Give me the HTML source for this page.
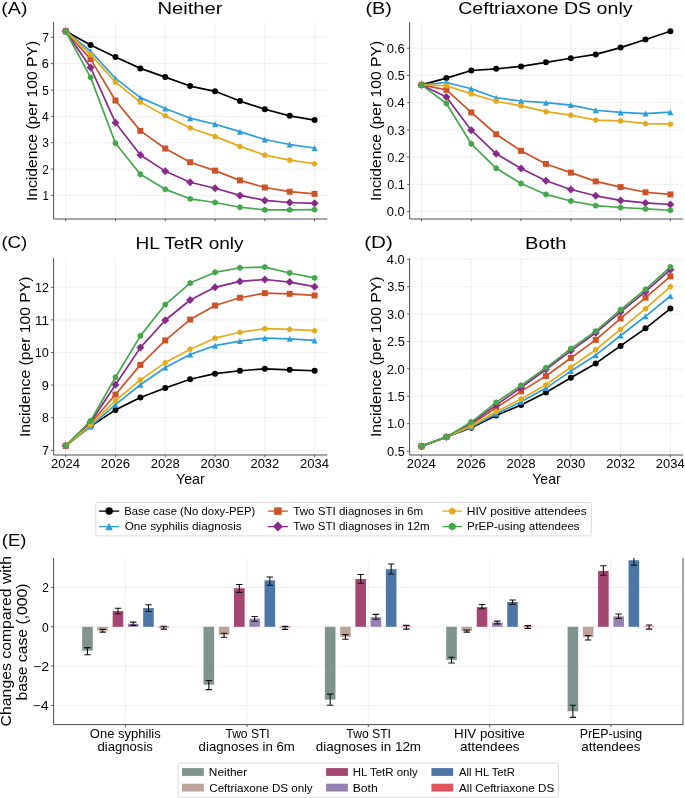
<!DOCTYPE html>
<html><head><meta charset="utf-8"><title>Figure</title><style>
html,body{margin:0;padding:0;background:#fff;width:685px;height:798px;overflow:hidden}
svg{display:block;will-change:transform}
text{font-family:"Liberation Sans",sans-serif;fill:#000}
</style></head><body>
<svg width="685" height="798" viewBox="0 0 685 798">
<rect width="685" height="798" fill="#fff"/>
<g>
<path d="M65.7 22.2V219M115.48 22.2V219M165.26 22.2V219M215.04 22.2V219M264.82 22.2V219M314.6 22.2V219M53.6 195.4H327.3M53.6 169.05H327.3M53.6 142.7H327.3M53.6 116.35H327.3M53.6 90H327.3M53.6 63.65H327.3M53.6 37.3H327.3" stroke="#ebebeb" stroke-width="0.8" fill="none"/>
<polyline points="65.7,31.24 90.59,44.94 115.48,57.06 140.37,68.39 165.26,77.09 190.15,86.05 215.04,91.32 239.93,101.07 264.82,109.24 289.71,115.82 314.6,120.04" fill="none" stroke="#000000" stroke-width="1.7" stroke-linejoin="round" stroke-linecap="round"/>
<circle cx="65.7" cy="31.24" r="3" fill="#000000"/><circle cx="90.59" cy="44.94" r="3" fill="#000000"/><circle cx="115.48" cy="57.06" r="3" fill="#000000"/><circle cx="140.37" cy="68.39" r="3" fill="#000000"/><circle cx="165.26" cy="77.09" r="3" fill="#000000"/><circle cx="190.15" cy="86.05" r="3" fill="#000000"/><circle cx="215.04" cy="91.32" r="3" fill="#000000"/><circle cx="239.93" cy="101.07" r="3" fill="#000000"/><circle cx="264.82" cy="109.24" r="3" fill="#000000"/><circle cx="289.71" cy="115.82" r="3" fill="#000000"/><circle cx="314.6" cy="120.04" r="3" fill="#000000"/>
<polyline points="65.7,31.24 90.59,51.27 115.48,78.41 140.37,97.64 165.26,108.45 190.15,118.19 215.04,124.25 239.93,131.63 264.82,139.54 289.71,144.54 314.6,147.97" fill="none" stroke="#2a9dda" stroke-width="1.7" stroke-linejoin="round" stroke-linecap="round"/>
<polygon points="65.7,28.24 68.7,34.24 62.7,34.24" fill="#2a9dda"/><polygon points="90.59,48.27 93.59,54.27 87.59,54.27" fill="#2a9dda"/><polygon points="115.48,75.41 118.48,81.41 112.48,81.41" fill="#2a9dda"/><polygon points="140.37,94.64 143.37,100.64 137.37,100.64" fill="#2a9dda"/><polygon points="165.26,105.45 168.26,111.45 162.26,111.45" fill="#2a9dda"/><polygon points="190.15,115.19 193.15,121.19 187.15,121.19" fill="#2a9dda"/><polygon points="215.04,121.25 218.04,127.25 212.04,127.25" fill="#2a9dda"/><polygon points="239.93,128.63 242.93,134.63 236.93,134.63" fill="#2a9dda"/><polygon points="264.82,136.54 267.82,142.54 261.82,142.54" fill="#2a9dda"/><polygon points="289.71,141.54 292.71,147.54 286.71,147.54" fill="#2a9dda"/><polygon points="314.6,144.97 317.6,150.97 311.6,150.97" fill="#2a9dda"/>
<polyline points="65.7,31.24 90.59,59.17 115.48,100.54 140.37,130.84 165.26,148.5 190.15,162.2 215.04,170.63 239.93,180.38 264.82,187.5 289.71,191.71 314.6,193.82" fill="none" stroke="#cd5227" stroke-width="1.7" stroke-linejoin="round" stroke-linecap="round"/>
<rect x="62.7" y="28.24" width="6" height="6" fill="#cd5227"/><rect x="87.59" y="56.17" width="6" height="6" fill="#cd5227"/><rect x="112.48" y="97.54" width="6" height="6" fill="#cd5227"/><rect x="137.37" y="127.84" width="6" height="6" fill="#cd5227"/><rect x="162.26" y="145.5" width="6" height="6" fill="#cd5227"/><rect x="187.15" y="159.2" width="6" height="6" fill="#cd5227"/><rect x="212.04" y="167.63" width="6" height="6" fill="#cd5227"/><rect x="236.93" y="177.38" width="6" height="6" fill="#cd5227"/><rect x="261.82" y="184.5" width="6" height="6" fill="#cd5227"/><rect x="286.71" y="188.71" width="6" height="6" fill="#cd5227"/><rect x="311.6" y="190.82" width="6" height="6" fill="#cd5227"/>
<polyline points="65.7,31.24 90.59,67.6 115.48,122.67 140.37,155.08 165.26,171.16 190.15,182.23 215.04,188.29 239.93,195.4 264.82,200.41 289.71,202.51 314.6,203.31" fill="none" stroke="#872a8a" stroke-width="1.7" stroke-linejoin="round" stroke-linecap="round"/>
<polygon points="65.7,27.24 69.7,31.24 65.7,35.24 61.7,31.24" fill="#872a8a"/><polygon points="90.59,63.6 94.59,67.6 90.59,71.6 86.59,67.6" fill="#872a8a"/><polygon points="115.48,118.67 119.48,122.67 115.48,126.67 111.48,122.67" fill="#872a8a"/><polygon points="140.37,151.08 144.37,155.08 140.37,159.08 136.37,155.08" fill="#872a8a"/><polygon points="165.26,167.16 169.26,171.16 165.26,175.16 161.26,171.16" fill="#872a8a"/><polygon points="190.15,178.23 194.15,182.23 190.15,186.23 186.15,182.23" fill="#872a8a"/><polygon points="215.04,184.29 219.04,188.29 215.04,192.29 211.04,188.29" fill="#872a8a"/><polygon points="239.93,191.4 243.93,195.4 239.93,199.4 235.93,195.4" fill="#872a8a"/><polygon points="264.82,196.41 268.82,200.41 264.82,204.41 260.82,200.41" fill="#872a8a"/><polygon points="289.71,198.51 293.71,202.51 289.71,206.51 285.71,202.51" fill="#872a8a"/><polygon points="314.6,199.31 318.6,203.31 314.6,207.31 310.6,203.31" fill="#872a8a"/>
<polyline points="65.7,31.24 90.59,54.69 115.48,82.09 140.37,102.12 165.26,115.82 190.15,127.94 215.04,136.38 239.93,146.39 264.82,155.08 289.71,160.09 314.6,163.78" fill="none" stroke="#e3ab1b" stroke-width="1.7" stroke-linejoin="round" stroke-linecap="round"/>
<polygon points="65.7,28.09 68.7,30.27 67.55,33.79 63.85,33.79 62.7,30.27" fill="#e3ab1b"/><polygon points="90.59,51.54 93.59,53.72 92.44,57.24 88.74,57.24 87.59,53.72" fill="#e3ab1b"/><polygon points="115.48,78.94 118.48,81.12 117.33,84.64 113.63,84.64 112.48,81.12" fill="#e3ab1b"/><polygon points="140.37,98.97 143.37,101.15 142.22,104.67 138.52,104.67 137.37,101.15" fill="#e3ab1b"/><polygon points="165.26,112.67 168.26,114.85 167.11,118.37 163.41,118.37 162.26,114.85" fill="#e3ab1b"/><polygon points="190.15,124.79 193.15,126.97 192,130.49 188.3,130.49 187.15,126.97" fill="#e3ab1b"/><polygon points="215.04,133.23 218.04,135.4 216.89,138.92 213.19,138.92 212.04,135.4" fill="#e3ab1b"/><polygon points="239.93,143.24 242.93,145.42 241.78,148.94 238.08,148.94 236.93,145.42" fill="#e3ab1b"/><polygon points="264.82,151.93 267.82,154.11 266.67,157.63 262.97,157.63 261.82,154.11" fill="#e3ab1b"/><polygon points="289.71,156.94 292.71,159.12 291.56,162.64 287.86,162.64 286.71,159.12" fill="#e3ab1b"/><polygon points="314.6,160.63 317.6,162.81 316.45,166.33 312.75,166.33 311.6,162.81" fill="#e3ab1b"/>
<polyline points="65.7,31.24 90.59,77.35 115.48,143.23 140.37,174.32 165.26,189.34 190.15,198.83 215.04,202.51 239.93,207.26 264.82,209.89 289.71,209.89 314.6,209.63" fill="none" stroke="#44a84a" stroke-width="1.7" stroke-linejoin="round" stroke-linecap="round"/>
<polygon points="65.7,28.04 68.47,29.64 68.47,32.84 65.7,34.44 62.93,32.84 62.93,29.64" fill="#44a84a"/><polygon points="90.59,74.15 93.36,75.75 93.36,78.95 90.59,80.55 87.82,78.95 87.82,75.75" fill="#44a84a"/><polygon points="115.48,140.03 118.25,141.63 118.25,144.83 115.48,146.43 112.71,144.83 112.71,141.63" fill="#44a84a"/><polygon points="140.37,171.12 143.14,172.72 143.14,175.92 140.37,177.52 137.6,175.92 137.6,172.72" fill="#44a84a"/><polygon points="165.26,186.14 168.03,187.74 168.03,190.94 165.26,192.54 162.49,190.94 162.49,187.74" fill="#44a84a"/><polygon points="190.15,195.63 192.92,197.23 192.92,200.43 190.15,202.03 187.38,200.43 187.38,197.23" fill="#44a84a"/><polygon points="215.04,199.31 217.81,200.91 217.81,204.11 215.04,205.71 212.27,204.11 212.27,200.91" fill="#44a84a"/><polygon points="239.93,204.06 242.7,205.66 242.7,208.86 239.93,210.46 237.16,208.86 237.16,205.66" fill="#44a84a"/><polygon points="264.82,206.69 267.59,208.29 267.59,211.49 264.82,213.09 262.05,211.49 262.05,208.29" fill="#44a84a"/><polygon points="289.71,206.69 292.48,208.29 292.48,211.49 289.71,213.09 286.94,211.49 286.94,208.29" fill="#44a84a"/><polygon points="314.6,206.43 317.37,208.03 317.37,211.23 314.6,212.83 311.83,211.23 311.83,208.03" fill="#44a84a"/>
<path d="M53.6 22.2V219H327.3" stroke="#4d4d4d" stroke-width="1" fill="none"/>
<path d="M65.7 219v2.2M115.48 219v2.2M165.26 219v2.2M215.04 219v2.2M264.82 219v2.2M314.6 219v2.2M53.6 195.4h-2.5M53.6 169.05h-2.5M53.6 142.7h-2.5M53.6 116.35h-2.5M53.6 90h-2.5M53.6 63.65h-2.5M53.6 37.3h-2.5" stroke="#4d4d4d" stroke-width="0.9" fill="none"/>
<text x="42.47" y="200.13" font-size="12.30" textLength="6.33" lengthAdjust="spacingAndGlyphs">1</text>
<text x="42.32" y="173.78" font-size="12.30" textLength="6.60" lengthAdjust="spacingAndGlyphs">2</text>
<text x="42.22" y="147.43" font-size="12.30" textLength="6.60" lengthAdjust="spacingAndGlyphs">3</text>
<text x="41.90" y="121.08" font-size="12.30" textLength="6.73" lengthAdjust="spacingAndGlyphs">4</text>
<text x="42.33" y="94.73" font-size="12.30" textLength="6.49" lengthAdjust="spacingAndGlyphs">5</text>
<text x="41.78" y="68.38" font-size="12.30" textLength="7.08" lengthAdjust="spacingAndGlyphs">6</text>
<text x="42.21" y="42.03" font-size="12.30" textLength="6.72" lengthAdjust="spacingAndGlyphs">7</text>
</g>
<g>
<path d="M421.5 22.3V219M471.28 22.3V219M521.06 22.3V219M570.84 22.3V219M620.62 22.3V219M670.4 22.3V219M409.6 211.6H683.2M409.6 184.36H683.2M409.6 157.12H683.2M409.6 129.88H683.2M409.6 102.64H683.2M409.6 75.4H683.2M409.6 48.16H683.2" stroke="#ebebeb" stroke-width="0.8" fill="none"/>
<polyline points="421.5,84.93 446.39,78.12 471.28,70.5 496.17,68.86 521.06,66.41 545.95,62.32 570.84,58.24 595.73,54.43 620.62,47.62 645.51,39.44 670.4,31.27" fill="none" stroke="#000000" stroke-width="1.7" stroke-linejoin="round" stroke-linecap="round"/>
<circle cx="421.5" cy="84.93" r="3" fill="#000000"/><circle cx="446.39" cy="78.12" r="3" fill="#000000"/><circle cx="471.28" cy="70.5" r="3" fill="#000000"/><circle cx="496.17" cy="68.86" r="3" fill="#000000"/><circle cx="521.06" cy="66.41" r="3" fill="#000000"/><circle cx="545.95" cy="62.32" r="3" fill="#000000"/><circle cx="570.84" cy="58.24" r="3" fill="#000000"/><circle cx="595.73" cy="54.43" r="3" fill="#000000"/><circle cx="620.62" cy="47.62" r="3" fill="#000000"/><circle cx="645.51" cy="39.44" r="3" fill="#000000"/><circle cx="670.4" cy="31.27" r="3" fill="#000000"/>
<polyline points="421.5,84.93 446.39,82.48 471.28,88.75 496.17,97.74 521.06,101.01 545.95,102.64 570.84,105.09 595.73,110.27 620.62,112.45 645.51,113.54 670.4,112.17" fill="none" stroke="#2a9dda" stroke-width="1.7" stroke-linejoin="round" stroke-linecap="round"/>
<polygon points="421.5,81.93 424.5,87.93 418.5,87.93" fill="#2a9dda"/><polygon points="446.39,79.48 449.39,85.48 443.39,85.48" fill="#2a9dda"/><polygon points="471.28,85.75 474.28,91.75 468.28,91.75" fill="#2a9dda"/><polygon points="496.17,94.74 499.17,100.74 493.17,100.74" fill="#2a9dda"/><polygon points="521.06,98.01 524.06,104.01 518.06,104.01" fill="#2a9dda"/><polygon points="545.95,99.64 548.95,105.64 542.95,105.64" fill="#2a9dda"/><polygon points="570.84,102.09 573.84,108.09 567.84,108.09" fill="#2a9dda"/><polygon points="595.73,107.27 598.73,113.27 592.73,113.27" fill="#2a9dda"/><polygon points="620.62,109.45 623.62,115.45 617.62,115.45" fill="#2a9dda"/><polygon points="645.51,110.54 648.51,116.54 642.51,116.54" fill="#2a9dda"/><polygon points="670.4,109.17 673.4,115.17 667.4,115.17" fill="#2a9dda"/>
<polyline points="421.5,84.93 446.39,89.84 471.28,112.45 496.17,134.24 521.06,150.85 545.95,163.93 570.84,172.65 595.73,181.36 620.62,187.08 645.51,192.26 670.4,194.44" fill="none" stroke="#cd5227" stroke-width="1.7" stroke-linejoin="round" stroke-linecap="round"/>
<rect x="418.5" y="81.93" width="6" height="6" fill="#cd5227"/><rect x="443.39" y="86.84" width="6" height="6" fill="#cd5227"/><rect x="468.28" y="109.45" width="6" height="6" fill="#cd5227"/><rect x="493.17" y="131.24" width="6" height="6" fill="#cd5227"/><rect x="518.06" y="147.85" width="6" height="6" fill="#cd5227"/><rect x="542.95" y="160.93" width="6" height="6" fill="#cd5227"/><rect x="567.84" y="169.65" width="6" height="6" fill="#cd5227"/><rect x="592.73" y="178.36" width="6" height="6" fill="#cd5227"/><rect x="617.62" y="184.08" width="6" height="6" fill="#cd5227"/><rect x="642.51" y="189.26" width="6" height="6" fill="#cd5227"/><rect x="667.4" y="191.44" width="6" height="6" fill="#cd5227"/>
<polyline points="421.5,84.93 446.39,96.92 471.28,130.15 496.17,153.85 521.06,168.56 545.95,180.82 570.84,189.54 595.73,195.8 620.62,200.43 645.51,202.88 670.4,204.52" fill="none" stroke="#872a8a" stroke-width="1.7" stroke-linejoin="round" stroke-linecap="round"/>
<polygon points="421.5,80.93 425.5,84.93 421.5,88.93 417.5,84.93" fill="#872a8a"/><polygon points="446.39,92.92 450.39,96.92 446.39,100.92 442.39,96.92" fill="#872a8a"/><polygon points="471.28,126.15 475.28,130.15 471.28,134.15 467.28,130.15" fill="#872a8a"/><polygon points="496.17,149.85 500.17,153.85 496.17,157.85 492.17,153.85" fill="#872a8a"/><polygon points="521.06,164.56 525.06,168.56 521.06,172.56 517.06,168.56" fill="#872a8a"/><polygon points="545.95,176.82 549.95,180.82 545.95,184.82 541.95,180.82" fill="#872a8a"/><polygon points="570.84,185.54 574.84,189.54 570.84,193.54 566.84,189.54" fill="#872a8a"/><polygon points="595.73,191.8 599.73,195.8 595.73,199.8 591.73,195.8" fill="#872a8a"/><polygon points="620.62,196.43 624.62,200.43 620.62,204.43 616.62,200.43" fill="#872a8a"/><polygon points="645.51,198.88 649.51,202.88 645.51,206.88 641.51,202.88" fill="#872a8a"/><polygon points="670.4,200.52 674.4,204.52 670.4,208.52 666.4,204.52" fill="#872a8a"/>
<polyline points="421.5,84.93 446.39,85.75 471.28,93.92 496.17,101.28 521.06,105.91 545.95,111.63 570.84,115.17 595.73,120.07 620.62,120.89 645.51,123.61 670.4,124.16" fill="none" stroke="#e3ab1b" stroke-width="1.7" stroke-linejoin="round" stroke-linecap="round"/>
<polygon points="421.5,81.78 424.5,83.96 423.35,87.48 419.65,87.48 418.5,83.96" fill="#e3ab1b"/><polygon points="446.39,82.6 449.39,84.78 448.24,88.3 444.54,88.3 443.39,84.78" fill="#e3ab1b"/><polygon points="471.28,90.77 474.28,92.95 473.13,96.47 469.43,96.47 468.28,92.95" fill="#e3ab1b"/><polygon points="496.17,98.13 499.17,100.3 498.02,103.83 494.32,103.83 493.17,100.3" fill="#e3ab1b"/><polygon points="521.06,102.76 524.06,104.94 522.91,108.46 519.21,108.46 518.06,104.94" fill="#e3ab1b"/><polygon points="545.95,108.48 548.95,110.66 547.8,114.18 544.1,114.18 542.95,110.66" fill="#e3ab1b"/><polygon points="570.84,112.02 573.84,114.2 572.69,117.72 568.99,117.72 567.84,114.2" fill="#e3ab1b"/><polygon points="595.73,116.92 598.73,119.1 597.58,122.62 593.88,122.62 592.73,119.1" fill="#e3ab1b"/><polygon points="620.62,117.74 623.62,119.92 622.47,123.44 618.77,123.44 617.62,119.92" fill="#e3ab1b"/><polygon points="645.51,120.46 648.51,122.64 647.36,126.16 643.66,126.16 642.51,122.64" fill="#e3ab1b"/><polygon points="670.4,121.01 673.4,123.19 672.25,126.71 668.55,126.71 667.4,123.19" fill="#e3ab1b"/>
<polyline points="421.5,84.93 446.39,103.46 471.28,143.77 496.17,168.29 521.06,183.54 545.95,194.44 570.84,200.98 595.73,205.61 620.62,207.51 645.51,208.88 670.4,210.24" fill="none" stroke="#44a84a" stroke-width="1.7" stroke-linejoin="round" stroke-linecap="round"/>
<polygon points="421.5,81.73 424.27,83.33 424.27,86.53 421.5,88.13 418.73,86.53 418.73,83.33" fill="#44a84a"/><polygon points="446.39,100.26 449.16,101.86 449.16,105.06 446.39,106.66 443.62,105.06 443.62,101.86" fill="#44a84a"/><polygon points="471.28,140.57 474.05,142.17 474.05,145.37 471.28,146.97 468.51,145.37 468.51,142.17" fill="#44a84a"/><polygon points="496.17,165.09 498.94,166.69 498.94,169.89 496.17,171.49 493.4,169.89 493.4,166.69" fill="#44a84a"/><polygon points="521.06,180.34 523.83,181.94 523.83,185.14 521.06,186.74 518.29,185.14 518.29,181.94" fill="#44a84a"/><polygon points="545.95,191.24 548.72,192.84 548.72,196.04 545.95,197.64 543.18,196.04 543.18,192.84" fill="#44a84a"/><polygon points="570.84,197.78 573.61,199.38 573.61,202.58 570.84,204.18 568.07,202.58 568.07,199.38" fill="#44a84a"/><polygon points="595.73,202.41 598.5,204.01 598.5,207.21 595.73,208.81 592.96,207.21 592.96,204.01" fill="#44a84a"/><polygon points="620.62,204.31 623.39,205.91 623.39,209.11 620.62,210.71 617.85,209.11 617.85,205.91" fill="#44a84a"/><polygon points="645.51,205.68 648.28,207.28 648.28,210.48 645.51,212.08 642.74,210.48 642.74,207.28" fill="#44a84a"/><polygon points="670.4,207.04 673.17,208.64 673.17,211.84 670.4,213.44 667.63,211.84 667.63,208.64" fill="#44a84a"/>
<path d="M409.6 22.3V219H683.2" stroke="#4d4d4d" stroke-width="1" fill="none"/>
<path d="M421.5 219v2.2M471.28 219v2.2M521.06 219v2.2M570.84 219v2.2M620.62 219v2.2M670.4 219v2.2M409.6 211.6h-2.5M409.6 184.36h-2.5M409.6 157.12h-2.5M409.6 129.88h-2.5M409.6 102.64h-2.5M409.6 75.4h-2.5M409.6 48.16h-2.5" stroke="#4d4d4d" stroke-width="0.9" fill="none"/>
<text x="386.88" y="216.33" font-size="12.30" textLength="17.84" lengthAdjust="spacingAndGlyphs">0.0</text>
<text x="387.18" y="189.09" font-size="12.30" textLength="17.63" lengthAdjust="spacingAndGlyphs">0.1</text>
<text x="387.28" y="161.85" font-size="12.30" textLength="17.63" lengthAdjust="spacingAndGlyphs">0.2</text>
<text x="386.98" y="134.61" font-size="12.30" textLength="17.84" lengthAdjust="spacingAndGlyphs">0.3</text>
<text x="386.78" y="107.37" font-size="12.30" textLength="17.83" lengthAdjust="spacingAndGlyphs">0.4</text>
<text x="387.08" y="80.13" font-size="12.30" textLength="17.74" lengthAdjust="spacingAndGlyphs">0.5</text>
<text x="386.77" y="52.89" font-size="12.30" textLength="18.05" lengthAdjust="spacingAndGlyphs">0.6</text>
</g>
<g>
<path d="M65.7 258.2V455M115.48 258.2V455M165.26 258.2V455M215.04 258.2V455M264.82 258.2V455M314.6 258.2V455M53.6 450.3H327.3M53.6 417.7H327.3M53.6 385.1H327.3M53.6 352.5H327.3M53.6 319.9H327.3M53.6 287.3H327.3" stroke="#ebebeb" stroke-width="0.8" fill="none"/>
<polyline points="65.7,445.74 90.59,426.18 115.48,409.88 140.37,397.49 165.26,388.03 190.15,379.23 215.04,373.69 239.93,370.76 264.82,368.8 289.71,369.78 314.6,370.76" fill="none" stroke="#000000" stroke-width="1.7" stroke-linejoin="round" stroke-linecap="round"/>
<circle cx="65.7" cy="445.74" r="3" fill="#000000"/><circle cx="90.59" cy="426.18" r="3" fill="#000000"/><circle cx="115.48" cy="409.88" r="3" fill="#000000"/><circle cx="140.37" cy="397.49" r="3" fill="#000000"/><circle cx="165.26" cy="388.03" r="3" fill="#000000"/><circle cx="190.15" cy="379.23" r="3" fill="#000000"/><circle cx="215.04" cy="373.69" r="3" fill="#000000"/><circle cx="239.93" cy="370.76" r="3" fill="#000000"/><circle cx="264.82" cy="368.8" r="3" fill="#000000"/><circle cx="289.71" cy="369.78" r="3" fill="#000000"/><circle cx="314.6" cy="370.76" r="3" fill="#000000"/>
<polyline points="65.7,445.74 90.59,426.5 115.48,404.66 140.37,384.77 165.26,367.5 190.15,354.46 215.04,345.65 239.93,341.09 264.82,338.16 289.71,338.81 314.6,340.44" fill="none" stroke="#2a9dda" stroke-width="1.7" stroke-linejoin="round" stroke-linecap="round"/>
<polygon points="65.7,442.74 68.7,448.74 62.7,448.74" fill="#2a9dda"/><polygon points="90.59,423.5 93.59,429.5 87.59,429.5" fill="#2a9dda"/><polygon points="115.48,401.66 118.48,407.66 112.48,407.66" fill="#2a9dda"/><polygon points="140.37,381.77 143.37,387.77 137.37,387.77" fill="#2a9dda"/><polygon points="165.26,364.5 168.26,370.5 162.26,370.5" fill="#2a9dda"/><polygon points="190.15,351.46 193.15,357.46 187.15,357.46" fill="#2a9dda"/><polygon points="215.04,342.65 218.04,348.65 212.04,348.65" fill="#2a9dda"/><polygon points="239.93,338.09 242.93,344.09 236.93,344.09" fill="#2a9dda"/><polygon points="264.82,335.16 267.82,341.16 261.82,341.16" fill="#2a9dda"/><polygon points="289.71,335.81 292.71,341.81 286.71,341.81" fill="#2a9dda"/><polygon points="314.6,337.44 317.6,343.44 311.6,343.44" fill="#2a9dda"/>
<polyline points="65.7,445.74 90.59,423.57 115.48,394.55 140.37,364.89 165.26,340.44 190.15,319.57 215.04,305.56 239.93,297.73 264.82,293.17 289.71,293.82 314.6,295.45" fill="none" stroke="#cd5227" stroke-width="1.7" stroke-linejoin="round" stroke-linecap="round"/>
<rect x="62.7" y="442.74" width="6" height="6" fill="#cd5227"/><rect x="87.59" y="420.57" width="6" height="6" fill="#cd5227"/><rect x="112.48" y="391.55" width="6" height="6" fill="#cd5227"/><rect x="137.37" y="361.89" width="6" height="6" fill="#cd5227"/><rect x="162.26" y="337.44" width="6" height="6" fill="#cd5227"/><rect x="187.15" y="316.57" width="6" height="6" fill="#cd5227"/><rect x="212.04" y="302.56" width="6" height="6" fill="#cd5227"/><rect x="236.93" y="294.73" width="6" height="6" fill="#cd5227"/><rect x="261.82" y="290.17" width="6" height="6" fill="#cd5227"/><rect x="286.71" y="290.82" width="6" height="6" fill="#cd5227"/><rect x="311.6" y="292.45" width="6" height="6" fill="#cd5227"/>
<polyline points="65.7,445.74 90.59,422.26 115.48,384.77 140.37,347.61 165.26,320.23 190.15,300.01 215.04,287.3 239.93,281.43 264.82,279.48 289.71,282.08 314.6,286.65" fill="none" stroke="#872a8a" stroke-width="1.7" stroke-linejoin="round" stroke-linecap="round"/>
<polygon points="65.7,441.74 69.7,445.74 65.7,449.74 61.7,445.74" fill="#872a8a"/><polygon points="90.59,418.26 94.59,422.26 90.59,426.26 86.59,422.26" fill="#872a8a"/><polygon points="115.48,380.77 119.48,384.77 115.48,388.77 111.48,384.77" fill="#872a8a"/><polygon points="140.37,343.61 144.37,347.61 140.37,351.61 136.37,347.61" fill="#872a8a"/><polygon points="165.26,316.23 169.26,320.23 165.26,324.23 161.26,320.23" fill="#872a8a"/><polygon points="190.15,296.01 194.15,300.01 190.15,304.01 186.15,300.01" fill="#872a8a"/><polygon points="215.04,283.3 219.04,287.3 215.04,291.3 211.04,287.3" fill="#872a8a"/><polygon points="239.93,277.43 243.93,281.43 239.93,285.43 235.93,281.43" fill="#872a8a"/><polygon points="264.82,275.48 268.82,279.48 264.82,283.48 260.82,279.48" fill="#872a8a"/><polygon points="289.71,278.08 293.71,282.08 289.71,286.08 285.71,282.08" fill="#872a8a"/><polygon points="314.6,282.65 318.6,286.65 314.6,290.65 310.6,286.65" fill="#872a8a"/>
<polyline points="65.7,445.74 90.59,424.87 115.48,400.75 140.37,379.88 165.26,362.61 190.15,349.24 215.04,338.16 239.93,332.29 264.82,328.7 289.71,329.35 314.6,330.66" fill="none" stroke="#e3ab1b" stroke-width="1.7" stroke-linejoin="round" stroke-linecap="round"/>
<polygon points="65.7,442.59 68.7,444.76 67.55,448.28 63.85,448.28 62.7,444.76" fill="#e3ab1b"/><polygon points="90.59,421.72 93.59,423.9 92.44,427.42 88.74,427.42 87.59,423.9" fill="#e3ab1b"/><polygon points="115.48,397.6 118.48,399.77 117.33,403.3 113.63,403.3 112.48,399.77" fill="#e3ab1b"/><polygon points="140.37,376.73 143.37,378.91 142.22,382.43 138.52,382.43 137.37,378.91" fill="#e3ab1b"/><polygon points="165.26,359.46 168.26,361.63 167.11,365.15 163.41,365.15 162.26,361.63" fill="#e3ab1b"/><polygon points="190.15,346.09 193.15,348.27 192,351.79 188.3,351.79 187.15,348.27" fill="#e3ab1b"/><polygon points="215.04,335.01 218.04,337.18 216.89,340.7 213.19,340.7 212.04,337.18" fill="#e3ab1b"/><polygon points="239.93,329.14 242.93,331.31 241.78,334.84 238.08,334.84 236.93,331.31" fill="#e3ab1b"/><polygon points="264.82,325.55 267.82,327.73 266.67,331.25 262.97,331.25 261.82,327.73" fill="#e3ab1b"/><polygon points="289.71,326.2 292.71,328.38 291.56,331.9 287.86,331.9 286.71,328.38" fill="#e3ab1b"/><polygon points="314.6,327.51 317.6,329.68 316.45,333.21 312.75,333.21 311.6,329.68" fill="#e3ab1b"/>
<polyline points="65.7,445.74 90.59,420.96 115.48,377.28 140.37,335.87 165.26,304.58 190.15,283.06 215.04,272.3 239.93,267.74 264.82,267.09 289.71,272.96 314.6,277.85" fill="none" stroke="#44a84a" stroke-width="1.7" stroke-linejoin="round" stroke-linecap="round"/>
<polygon points="65.7,442.54 68.47,444.14 68.47,447.34 65.7,448.94 62.93,447.34 62.93,444.14" fill="#44a84a"/><polygon points="90.59,417.76 93.36,419.36 93.36,422.56 90.59,424.16 87.82,422.56 87.82,419.36" fill="#44a84a"/><polygon points="115.48,374.08 118.25,375.68 118.25,378.88 115.48,380.48 112.71,378.88 112.71,375.68" fill="#44a84a"/><polygon points="140.37,332.67 143.14,334.27 143.14,337.47 140.37,339.07 137.6,337.47 137.6,334.27" fill="#44a84a"/><polygon points="165.26,301.38 168.03,302.98 168.03,306.18 165.26,307.78 162.49,306.18 162.49,302.98" fill="#44a84a"/><polygon points="190.15,279.86 192.92,281.46 192.92,284.66 190.15,286.26 187.38,284.66 187.38,281.46" fill="#44a84a"/><polygon points="215.04,269.1 217.81,270.7 217.81,273.9 215.04,275.5 212.27,273.9 212.27,270.7" fill="#44a84a"/><polygon points="239.93,264.54 242.7,266.14 242.7,269.34 239.93,270.94 237.16,269.34 237.16,266.14" fill="#44a84a"/><polygon points="264.82,263.89 267.59,265.49 267.59,268.69 264.82,270.29 262.05,268.69 262.05,265.49" fill="#44a84a"/><polygon points="289.71,269.76 292.48,271.36 292.48,274.56 289.71,276.16 286.94,274.56 286.94,271.36" fill="#44a84a"/><polygon points="314.6,274.65 317.37,276.25 317.37,279.45 314.6,281.05 311.83,279.45 311.83,276.25" fill="#44a84a"/>
<path d="M53.6 258.2V455H327.3" stroke="#4d4d4d" stroke-width="1" fill="none"/>
<path d="M65.7 455v2.2M115.48 455v2.2M165.26 455v2.2M215.04 455v2.2M264.82 455v2.2M314.6 455v2.2M53.6 450.3h-2.5M53.6 417.7h-2.5M53.6 385.1h-2.5M53.6 352.5h-2.5M53.6 319.9h-2.5M53.6 287.3h-2.5" stroke="#4d4d4d" stroke-width="0.9" fill="none"/>
<text x="42.21" y="455.03" font-size="12.30" textLength="6.72" lengthAdjust="spacingAndGlyphs">7</text>
<text x="42.00" y="422.43" font-size="12.30" textLength="6.84" lengthAdjust="spacingAndGlyphs">8</text>
<text x="41.78" y="389.83" font-size="12.30" textLength="7.08" lengthAdjust="spacingAndGlyphs">9</text>
<text x="34.67" y="357.23" font-size="12.30" textLength="14.13" lengthAdjust="spacingAndGlyphs">10</text>
<text x="34.91" y="324.63" font-size="12.30" textLength="14.01" lengthAdjust="spacingAndGlyphs">11</text>
<text x="35.09" y="292.03" font-size="12.30" textLength="13.91" lengthAdjust="spacingAndGlyphs">12</text>
<text x="51.06" y="467.90" font-size="12.30" textLength="29.02" lengthAdjust="spacingAndGlyphs">2024</text>
<text x="100.84" y="467.90" font-size="12.30" textLength="29.24" lengthAdjust="spacingAndGlyphs">2026</text>
<text x="150.67" y="467.90" font-size="12.30" textLength="29.14" lengthAdjust="spacingAndGlyphs">2028</text>
<text x="200.45" y="467.90" font-size="12.30" textLength="29.03" lengthAdjust="spacingAndGlyphs">2030</text>
<text x="250.44" y="467.90" font-size="12.30" textLength="28.83" lengthAdjust="spacingAndGlyphs">2032</text>
<text x="299.96" y="467.90" font-size="12.30" textLength="29.02" lengthAdjust="spacingAndGlyphs">2034</text>
</g>
<g>
<path d="M421.5 258.4V455M471.28 258.4V455M521.06 258.4V455M570.84 258.4V455M620.62 258.4V455M670.4 258.4V455M409.6 451.1H683.2M409.6 423.7H683.2M409.6 396.3H683.2M409.6 368.9H683.2M409.6 341.5H683.2M409.6 314.1H683.2M409.6 286.7H683.2M409.6 259.3H683.2" stroke="#ebebeb" stroke-width="0.8" fill="none"/>
<polyline points="421.5,446.17 446.39,437.02 471.28,427.81 496.17,415.48 521.06,405.07 545.95,392.46 570.84,377.67 595.73,363.42 620.62,345.88 645.51,328.35 670.4,308.62" fill="none" stroke="#000000" stroke-width="1.7" stroke-linejoin="round" stroke-linecap="round"/>
<circle cx="421.5" cy="446.17" r="3" fill="#000000"/><circle cx="446.39" cy="437.02" r="3" fill="#000000"/><circle cx="471.28" cy="427.81" r="3" fill="#000000"/><circle cx="496.17" cy="415.48" r="3" fill="#000000"/><circle cx="521.06" cy="405.07" r="3" fill="#000000"/><circle cx="545.95" cy="392.46" r="3" fill="#000000"/><circle cx="570.84" cy="377.67" r="3" fill="#000000"/><circle cx="595.73" cy="363.42" r="3" fill="#000000"/><circle cx="620.62" cy="345.88" r="3" fill="#000000"/><circle cx="645.51" cy="328.35" r="3" fill="#000000"/><circle cx="670.4" cy="308.62" r="3" fill="#000000"/>
<polyline points="421.5,446.17 446.39,437.02 471.28,426.99 496.17,413.84 521.06,401.78 545.95,388.08 570.84,371.09 595.73,355.2 620.62,335.47 645.51,316.29 670.4,296.02" fill="none" stroke="#2a9dda" stroke-width="1.7" stroke-linejoin="round" stroke-linecap="round"/>
<polygon points="421.5,443.17 424.5,449.17 418.5,449.17" fill="#2a9dda"/><polygon points="446.39,434.02 449.39,440.02 443.39,440.02" fill="#2a9dda"/><polygon points="471.28,423.99 474.28,429.99 468.28,429.99" fill="#2a9dda"/><polygon points="496.17,410.84 499.17,416.84 493.17,416.84" fill="#2a9dda"/><polygon points="521.06,398.78 524.06,404.78 518.06,404.78" fill="#2a9dda"/><polygon points="545.95,385.08 548.95,391.08 542.95,391.08" fill="#2a9dda"/><polygon points="570.84,368.09 573.84,374.09 567.84,374.09" fill="#2a9dda"/><polygon points="595.73,352.2 598.73,358.2 592.73,358.2" fill="#2a9dda"/><polygon points="620.62,332.47 623.62,338.47 617.62,338.47" fill="#2a9dda"/><polygon points="645.51,313.29 648.51,319.29 642.51,319.29" fill="#2a9dda"/><polygon points="670.4,293.02 673.4,299.02 667.4,299.02" fill="#2a9dda"/>
<polyline points="421.5,446.17 446.39,437.02 471.28,424.25 496.17,407.81 521.06,391.37 545.95,376.02 570.84,357.94 595.73,339.86 620.62,318.48 645.51,297.66 670.4,276.29" fill="none" stroke="#cd5227" stroke-width="1.7" stroke-linejoin="round" stroke-linecap="round"/>
<rect x="418.5" y="443.17" width="6" height="6" fill="#cd5227"/><rect x="443.39" y="434.02" width="6" height="6" fill="#cd5227"/><rect x="468.28" y="421.25" width="6" height="6" fill="#cd5227"/><rect x="493.17" y="404.81" width="6" height="6" fill="#cd5227"/><rect x="518.06" y="388.37" width="6" height="6" fill="#cd5227"/><rect x="542.95" y="373.02" width="6" height="6" fill="#cd5227"/><rect x="567.84" y="354.94" width="6" height="6" fill="#cd5227"/><rect x="592.73" y="336.86" width="6" height="6" fill="#cd5227"/><rect x="617.62" y="315.48" width="6" height="6" fill="#cd5227"/><rect x="642.51" y="294.66" width="6" height="6" fill="#cd5227"/><rect x="667.4" y="273.29" width="6" height="6" fill="#cd5227"/>
<polyline points="421.5,446.17 446.39,437.02 471.28,423.15 496.17,405.07 521.06,387.53 545.95,369.45 570.84,350.82 595.73,332.73 620.62,311.91 645.51,291.63 670.4,269.71" fill="none" stroke="#872a8a" stroke-width="1.7" stroke-linejoin="round" stroke-linecap="round"/>
<polygon points="421.5,442.17 425.5,446.17 421.5,450.17 417.5,446.17" fill="#872a8a"/><polygon points="446.39,433.02 450.39,437.02 446.39,441.02 442.39,437.02" fill="#872a8a"/><polygon points="471.28,419.15 475.28,423.15 471.28,427.15 467.28,423.15" fill="#872a8a"/><polygon points="496.17,401.07 500.17,405.07 496.17,409.07 492.17,405.07" fill="#872a8a"/><polygon points="521.06,383.53 525.06,387.53 521.06,391.53 517.06,387.53" fill="#872a8a"/><polygon points="545.95,365.45 549.95,369.45 545.95,373.45 541.95,369.45" fill="#872a8a"/><polygon points="570.84,346.82 574.84,350.82 570.84,354.82 566.84,350.82" fill="#872a8a"/><polygon points="595.73,328.73 599.73,332.73 595.73,336.73 591.73,332.73" fill="#872a8a"/><polygon points="620.62,307.91 624.62,311.91 620.62,315.91 616.62,311.91" fill="#872a8a"/><polygon points="645.51,287.63 649.51,291.63 645.51,295.63 641.51,291.63" fill="#872a8a"/><polygon points="670.4,265.71 674.4,269.71 670.4,273.71 666.4,269.71" fill="#872a8a"/>
<polyline points="421.5,446.17 446.39,437.02 471.28,425.89 496.17,411.64 521.06,399.04 545.95,384.79 570.84,367.26 595.73,349.72 620.62,329.44 645.51,308.62 670.4,286.7" fill="none" stroke="#e3ab1b" stroke-width="1.7" stroke-linejoin="round" stroke-linecap="round"/>
<polygon points="421.5,443.02 424.5,445.19 423.35,448.72 419.65,448.72 418.5,445.19" fill="#e3ab1b"/><polygon points="446.39,433.87 449.39,436.04 448.24,439.56 444.54,439.56 443.39,436.04" fill="#e3ab1b"/><polygon points="471.28,422.74 474.28,424.92 473.13,428.44 469.43,428.44 468.28,424.92" fill="#e3ab1b"/><polygon points="496.17,408.49 499.17,410.67 498.02,414.19 494.32,414.19 493.17,410.67" fill="#e3ab1b"/><polygon points="521.06,395.89 524.06,398.07 522.91,401.59 519.21,401.59 518.06,398.07" fill="#e3ab1b"/><polygon points="545.95,381.64 548.95,383.82 547.8,387.34 544.1,387.34 542.95,383.82" fill="#e3ab1b"/><polygon points="570.84,364.11 573.84,366.28 572.69,369.8 568.99,369.8 567.84,366.28" fill="#e3ab1b"/><polygon points="595.73,346.57 598.73,348.75 597.58,352.27 593.88,352.27 592.73,348.75" fill="#e3ab1b"/><polygon points="620.62,326.29 623.62,328.47 622.47,331.99 618.77,331.99 617.62,328.47" fill="#e3ab1b"/><polygon points="645.51,305.47 648.51,307.65 647.36,311.17 643.66,311.17 642.51,307.65" fill="#e3ab1b"/><polygon points="670.4,283.55 673.4,285.73 672.25,289.25 668.55,289.25 667.4,285.73" fill="#e3ab1b"/>
<polyline points="421.5,446.17 446.39,437.02 471.28,422.06 496.17,402.33 521.06,385.34 545.95,367.8 570.84,348.62 595.73,331.09 620.62,309.72 645.51,289.44 670.4,266.97" fill="none" stroke="#44a84a" stroke-width="1.7" stroke-linejoin="round" stroke-linecap="round"/>
<polygon points="421.5,442.97 424.27,444.57 424.27,447.77 421.5,449.37 418.73,447.77 418.73,444.57" fill="#44a84a"/><polygon points="446.39,433.82 449.16,435.42 449.16,438.62 446.39,440.22 443.62,438.62 443.62,435.42" fill="#44a84a"/><polygon points="471.28,418.86 474.05,420.46 474.05,423.66 471.28,425.26 468.51,423.66 468.51,420.46" fill="#44a84a"/><polygon points="496.17,399.13 498.94,400.73 498.94,403.93 496.17,405.53 493.4,403.93 493.4,400.73" fill="#44a84a"/><polygon points="521.06,382.14 523.83,383.74 523.83,386.94 521.06,388.54 518.29,386.94 518.29,383.74" fill="#44a84a"/><polygon points="545.95,364.6 548.72,366.2 548.72,369.4 545.95,371 543.18,369.4 543.18,366.2" fill="#44a84a"/><polygon points="570.84,345.42 573.61,347.02 573.61,350.22 570.84,351.82 568.07,350.22 568.07,347.02" fill="#44a84a"/><polygon points="595.73,327.89 598.5,329.49 598.5,332.69 595.73,334.29 592.96,332.69 592.96,329.49" fill="#44a84a"/><polygon points="620.62,306.52 623.39,308.12 623.39,311.32 620.62,312.92 617.85,311.32 617.85,308.12" fill="#44a84a"/><polygon points="645.51,286.24 648.28,287.84 648.28,291.04 645.51,292.64 642.74,291.04 642.74,287.84" fill="#44a84a"/><polygon points="670.4,263.77 673.17,265.37 673.17,268.57 670.4,270.17 667.63,268.57 667.63,265.37" fill="#44a84a"/>
<path d="M409.6 258.4V455H683.2" stroke="#4d4d4d" stroke-width="1" fill="none"/>
<path d="M421.5 455v2.2M471.28 455v2.2M521.06 455v2.2M570.84 455v2.2M620.62 455v2.2M670.4 455v2.2M409.6 451.1h-2.5M409.6 423.7h-2.5M409.6 396.3h-2.5M409.6 368.9h-2.5M409.6 341.5h-2.5M409.6 314.1h-2.5M409.6 286.7h-2.5M409.6 259.3h-2.5" stroke="#4d4d4d" stroke-width="0.9" fill="none"/>
<text x="387.08" y="455.83" font-size="12.30" textLength="17.74" lengthAdjust="spacingAndGlyphs">0.5</text>
<text x="386.97" y="428.43" font-size="12.30" textLength="17.75" lengthAdjust="spacingAndGlyphs">1.0</text>
<text x="387.17" y="401.03" font-size="12.30" textLength="17.64" lengthAdjust="spacingAndGlyphs">1.5</text>
<text x="386.77" y="373.63" font-size="12.30" textLength="17.95" lengthAdjust="spacingAndGlyphs">2.0</text>
<text x="386.97" y="346.23" font-size="12.30" textLength="17.85" lengthAdjust="spacingAndGlyphs">2.5</text>
<text x="386.98" y="318.83" font-size="12.30" textLength="17.73" lengthAdjust="spacingAndGlyphs">3.0</text>
<text x="387.18" y="291.43" font-size="12.30" textLength="17.63" lengthAdjust="spacingAndGlyphs">3.5</text>
<text x="386.89" y="264.03" font-size="12.30" textLength="17.83" lengthAdjust="spacingAndGlyphs">4.0</text>
<text x="406.86" y="467.90" font-size="12.30" textLength="29.02" lengthAdjust="spacingAndGlyphs">2024</text>
<text x="456.64" y="467.90" font-size="12.30" textLength="29.24" lengthAdjust="spacingAndGlyphs">2026</text>
<text x="506.47" y="467.90" font-size="12.30" textLength="29.14" lengthAdjust="spacingAndGlyphs">2028</text>
<text x="556.25" y="467.90" font-size="12.30" textLength="29.03" lengthAdjust="spacingAndGlyphs">2030</text>
<text x="606.24" y="467.90" font-size="12.30" textLength="28.83" lengthAdjust="spacingAndGlyphs">2032</text>
<text x="655.76" y="467.90" font-size="12.30" textLength="29.02" lengthAdjust="spacingAndGlyphs">2034</text>
</g>
<text x="1.35" y="14.00" font-size="17.20" textLength="26.12" lengthAdjust="spacingAndGlyphs">(A)</text>
<text x="157.44" y="13.60" font-size="17.00" textLength="65.02" lengthAdjust="spacingAndGlyphs">Neither</text>
<text x="365.43" y="14.00" font-size="17.20" textLength="26.46" lengthAdjust="spacingAndGlyphs">(B)</text>
<text x="458.16" y="13.50" font-size="17.00" textLength="174.42" lengthAdjust="spacingAndGlyphs">Ceftriaxone DS only</text>
<text x="1.40" y="247.80" font-size="17.20" textLength="25.96" lengthAdjust="spacingAndGlyphs">(C)</text>
<text x="135.63" y="248.70" font-size="17.00" textLength="107.95" lengthAdjust="spacingAndGlyphs">HL TetR only</text>
<text x="364.18" y="247.80" font-size="17.20" textLength="28.59" lengthAdjust="spacingAndGlyphs">(D)</text>
<text x="525.04" y="248.80" font-size="17.00" textLength="41.43" lengthAdjust="spacingAndGlyphs">Both</text>
<text x="36.90" y="201.03" font-size="14.20" textLength="160.25" lengthAdjust="spacingAndGlyphs" transform="rotate(-90 36.90 201.03)">Incidence (per 100 PY)</text>
<text x="381.40" y="201.03" font-size="14.20" textLength="160.25" lengthAdjust="spacingAndGlyphs" transform="rotate(-90 381.40 201.03)">Incidence (per 100 PY)</text>
<text x="29.90" y="437.04" font-size="14.20" textLength="160.46" lengthAdjust="spacingAndGlyphs" transform="rotate(-90 29.90 437.04)">Incidence (per 100 PY)</text>
<text x="381.40" y="437.04" font-size="14.20" textLength="160.46" lengthAdjust="spacingAndGlyphs" transform="rotate(-90 381.40 437.04)">Incidence (per 100 PY)</text>
<text x="176.00" y="483.90" font-size="14.20" textLength="28.69" lengthAdjust="spacingAndGlyphs">Year</text>
<text x="532.30" y="483.90" font-size="14.20" textLength="28.28" lengthAdjust="spacingAndGlyphs">Year</text>
<rect x="95.8" y="502.4" width="495.5" height="33.5" rx="2" ry="2" fill="#fff" stroke="#d6d6d6" stroke-width="0.9"/>
<line x1="99.1" y1="511.1" x2="119.2" y2="511.1" stroke="#000000" stroke-width="1.3"/>
<circle cx="109.15" cy="511.1" r="3.75" fill="#000000"/>
<text x="124.25" y="514.90" font-size="10.70" textLength="131.08" lengthAdjust="spacingAndGlyphs">Base case (No doxy-PEP)</text>
<line x1="99.1" y1="526.6" x2="119.2" y2="526.6" stroke="#2a9dda" stroke-width="1.3"/>
<polygon points="109.15,522.85 112.9,530.35 105.4,530.35" fill="#2a9dda"/>
<text x="124.65" y="530.40" font-size="10.70" textLength="117.05" lengthAdjust="spacingAndGlyphs">One syphilis diagnosis</text>
<line x1="267.9" y1="511.1" x2="287.9" y2="511.1" stroke="#cd5227" stroke-width="1.3"/>
<rect x="274.15" y="507.35" width="7.5" height="7.5" fill="#cd5227"/>
<text x="293.28" y="514.90" font-size="10.70" textLength="129.92" lengthAdjust="spacingAndGlyphs">Two STI diagnoses in 6m</text>
<line x1="267.9" y1="526.6" x2="287.9" y2="526.6" stroke="#872a8a" stroke-width="1.3"/>
<polygon points="277.9,521.6 282.9,526.6 277.9,531.6 272.9,526.6" fill="#872a8a"/>
<text x="293.28" y="530.40" font-size="10.70" textLength="136.37" lengthAdjust="spacingAndGlyphs">Two STI diagnoses in 12m</text>
<line x1="442.4" y1="511.1" x2="462" y2="511.1" stroke="#e3ab1b" stroke-width="1.3"/>
<polygon points="452.2,507.16 455.94,509.88 454.51,514.29 449.89,514.29 448.46,509.88" fill="#e3ab1b"/>
<text x="466.89" y="514.90" font-size="10.70" textLength="119.92" lengthAdjust="spacingAndGlyphs">HIV positive attendees</text>
<line x1="442.4" y1="526.6" x2="462" y2="526.6" stroke="#44a84a" stroke-width="1.3"/>
<polygon points="452.2,522.6 455.66,524.6 455.66,528.6 452.2,530.6 448.74,528.6 448.74,524.6" fill="#44a84a"/>
<text x="466.93" y="530.40" font-size="10.70" textLength="112.71" lengthAdjust="spacingAndGlyphs">PrEP-using attendees</text>
<defs><clipPath id="ce"><rect x="53.6" y="558.1" width="629.4" height="166.5"/></clipPath></defs>
<path d="M125.6 558.1V724.6M246.95 558.1V724.6M368.3 558.1V724.6M489.65 558.1V724.6M611 558.1V724.6M53.6 705.52H683M53.6 666.16H683M53.6 626.8H683M53.6 587.44H683" stroke="#ebebeb" stroke-width="0.8" fill="none"/>
<g clip-path="url(#ce)">
<rect x="82.17" y="626.8" width="10.6" height="23.81" fill="#7f948e"/>
<rect x="97.42" y="626.8" width="10.6" height="3.94" fill="#bea39b"/>
<rect x="112.67" y="611.06" width="10.6" height="15.74" fill="#a34772"/>
<rect x="127.92" y="623.85" width="10.6" height="2.95" fill="#9480b2"/>
<rect x="143.17" y="608.1" width="10.6" height="18.7" fill="#4c76a6"/>
<rect x="158.42" y="626.5" width="10.6" height="1.1" fill="#e0545a"/>
<rect x="203.52" y="626.8" width="10.6" height="57.86" fill="#7f948e"/>
<rect x="218.77" y="626.8" width="10.6" height="8.07" fill="#bea39b"/>
<rect x="234.02" y="588.23" width="10.6" height="38.57" fill="#a34772"/>
<rect x="249.27" y="618.73" width="10.6" height="8.07" fill="#9480b2"/>
<rect x="264.52" y="580.36" width="10.6" height="46.44" fill="#4c76a6"/>
<rect x="279.77" y="626.5" width="10.6" height="1" fill="#e0545a"/>
<rect x="324.87" y="626.8" width="10.6" height="72.82" fill="#7f948e"/>
<rect x="340.12" y="626.8" width="10.6" height="10.04" fill="#bea39b"/>
<rect x="355.37" y="578.98" width="10.6" height="47.82" fill="#a34772"/>
<rect x="370.62" y="617.16" width="10.6" height="9.64" fill="#9480b2"/>
<rect x="385.87" y="569.14" width="10.6" height="57.66" fill="#4c76a6"/>
<rect x="401.12" y="626.5" width="10.6" height="0.6" fill="#e0545a"/>
<rect x="446.22" y="626.8" width="10.6" height="33.06" fill="#7f948e"/>
<rect x="461.47" y="626.8" width="10.6" height="4.33" fill="#bea39b"/>
<rect x="476.72" y="607.12" width="10.6" height="19.68" fill="#a34772"/>
<rect x="491.97" y="622.47" width="10.6" height="4.33" fill="#9480b2"/>
<rect x="507.22" y="602" width="10.6" height="24.8" fill="#4c76a6"/>
<rect x="522.48" y="626.5" width="10.6" height="0.6" fill="#e0545a"/>
<rect x="567.58" y="626.8" width="10.6" height="84.43" fill="#7f948e"/>
<rect x="582.83" y="626.8" width="10.6" height="10.43" fill="#bea39b"/>
<rect x="598.08" y="570.91" width="10.6" height="55.89" fill="#a34772"/>
<rect x="613.33" y="616.37" width="10.6" height="10.43" fill="#9480b2"/>
<rect x="628.58" y="560.28" width="10.6" height="66.52" fill="#4c76a6"/>
<rect x="643.83" y="626.5" width="10.6" height="0.5" fill="#e0545a"/>
<path d="M87.47 647.66V654.75M84.27 647.66h6.4M84.27 654.75h6.4M102.72 629.36V632.11M99.52 629.36h6.4M99.52 632.11h6.4M117.97 608.3V613.81M114.77 608.3h6.4M114.77 613.81h6.4M133.22 622.08V625.42M130.03 622.08h6.4M130.03 625.42h6.4M148.47 604.76V611.45M145.28 604.76h6.4M145.28 611.45h6.4M163.72 626.21V629.16M160.53 626.21h6.4M160.53 629.16h6.4M208.82 680.53V689.58M205.62 680.53h6.4M205.62 689.58h6.4M224.07 633.29V637.23M220.88 633.29h6.4M220.88 637.23h6.4M239.32 584.49V592.36M236.12 584.49h6.4M236.12 592.36h6.4M254.57 616.57V621.29M251.38 616.57h6.4M251.38 621.29h6.4M269.82 577.01V585.28M266.62 577.01h6.4M266.62 585.28h6.4M285.07 626.41V629.36M281.88 626.41h6.4M281.88 629.36h6.4M330.17 694.11V705.32M326.97 694.11h6.4M326.97 705.32h6.4M345.42 634.67V639.2M342.22 634.67h6.4M342.22 639.2h6.4M360.67 574.45V583.31M357.47 574.45h6.4M357.47 583.31h6.4M375.92 614.4V619.32M372.72 614.4h6.4M372.72 619.32h6.4M391.17 564.02V574.06M387.97 564.02h6.4M387.97 574.06h6.4M406.42 625.42V629.16M403.22 625.42h6.4M403.22 629.16h6.4M451.52 657.3V663.01M448.32 657.3h6.4M448.32 663.01h6.4M466.77 629.95V632.11M463.57 629.95h6.4M463.57 632.11h6.4M482.02 604.56V608.69M478.82 604.56h6.4M478.82 608.69h6.4M497.27 621.09V623.85M494.07 621.09h6.4M494.07 623.85h6.4M512.52 600.04V604.36M509.32 600.04h6.4M509.32 604.36h6.4M527.77 625.62V628.37M524.57 625.62h6.4M524.57 628.37h6.4M572.88 705.32V717.33M569.67 705.32h6.4M569.67 717.33h6.4M588.12 635.46V639.99M584.92 635.46h6.4M584.92 639.99h6.4M603.38 565.79V575.24M600.17 565.79h6.4M600.17 575.24h6.4M618.62 614.01V618.53M615.42 614.01h6.4M615.42 618.53h6.4M633.88 555.95V565.2M630.67 555.95h6.4M630.67 565.2h6.4M649.12 625.03V629.16M645.92 625.03h6.4M645.92 629.16h6.4" stroke="#111" stroke-width="1.1" fill="none"/>
</g>
<path d="M53.6 558.1V724.6H683V558.1" stroke="#4d4d4d" stroke-width="1" fill="none"/>
<path d="M125.6 724.6v2.5M246.95 724.6v2.5M368.3 724.6v2.5M489.65 724.6v2.5M611 724.6v2.5M53.6 705.52h-2.5M53.6 666.16h-2.5M53.6 626.8h-2.5M53.6 587.44h-2.5" stroke="#4d4d4d" stroke-width="0.9" fill="none"/>
<text x="42.32" y="592.17" font-size="12.30" textLength="6.60" lengthAdjust="spacingAndGlyphs">2</text>
<text x="42.01" y="631.53" font-size="12.30" textLength="6.72" lengthAdjust="spacingAndGlyphs">0</text>
<text x="32.91" y="670.89" font-size="12.30" textLength="16.11" lengthAdjust="spacingAndGlyphs">−2</text>
<text x="32.40" y="710.25" font-size="12.30" textLength="16.27" lengthAdjust="spacingAndGlyphs">−4</text>
<text x="89.75" y="737.90" font-size="11.85" textLength="70.96" lengthAdjust="spacingAndGlyphs">One syphilis</text>
<text x="97.54" y="750.90" font-size="11.85" textLength="55.35" lengthAdjust="spacingAndGlyphs">diagnosis</text>
<text x="225.49" y="737.90" font-size="11.85" textLength="44.10" lengthAdjust="spacingAndGlyphs">Two STI</text>
<text x="198.64" y="750.90" font-size="11.85" textLength="96.18" lengthAdjust="spacingAndGlyphs">diagnoses in 6m</text>
<text x="346.39" y="737.90" font-size="11.85" textLength="44.62" lengthAdjust="spacingAndGlyphs">Two STI</text>
<text x="315.73" y="750.90" font-size="11.85" textLength="105.36" lengthAdjust="spacingAndGlyphs">diagnoses in 12m</text>
<text x="454.07" y="737.90" font-size="11.85" textLength="70.85" lengthAdjust="spacingAndGlyphs">HIV positive</text>
<text x="460.03" y="750.90" font-size="11.85" textLength="59.47" lengthAdjust="spacingAndGlyphs">attendees</text>
<text x="579.75" y="737.90" font-size="11.85" textLength="62.46" lengthAdjust="spacingAndGlyphs">PrEP-using</text>
<text x="581.33" y="750.90" font-size="11.85" textLength="59.06" lengthAdjust="spacingAndGlyphs">attendees</text>
<text x="1.82" y="545.60" font-size="17.20" textLength="24.58" lengthAdjust="spacingAndGlyphs">(E)</text>
<text x="10.70" y="726.38" font-size="14.20" textLength="170.40" lengthAdjust="spacingAndGlyphs" transform="rotate(-90 10.70 726.38)">Changes compared with</text>
<text x="26.60" y="700.60" font-size="14.20" textLength="117.16" lengthAdjust="spacingAndGlyphs" transform="rotate(-90 26.60 700.60)">base case (,000)</text>
<rect x="178" y="763" width="380.5" height="34.3" rx="2" ry="2" fill="#fff" stroke="#d6d6d6" stroke-width="0.9"/>
<rect x="182" y="768.1" width="21.8" height="7.8" fill="#7f948e"/>
<text x="208.79" y="775.90" font-size="10.65" textLength="38.40" lengthAdjust="spacingAndGlyphs">Neither</text>
<rect x="182" y="783.7" width="21.8" height="7.8" fill="#bea39b"/>
<text x="209.25" y="791.50" font-size="10.65" textLength="103.31" lengthAdjust="spacingAndGlyphs">Ceftriaxone DS only</text>
<rect x="326.1" y="768.1" width="21.8" height="7.8" fill="#a34772"/>
<text x="352.73" y="775.90" font-size="10.65" textLength="65.07" lengthAdjust="spacingAndGlyphs">HL TetR only</text>
<rect x="326.1" y="783.7" width="21.8" height="7.8" fill="#9480b2"/>
<text x="352.67" y="791.50" font-size="10.65" textLength="25.04" lengthAdjust="spacingAndGlyphs">Both</text>
<rect x="431.4" y="768.1" width="21.8" height="7.8" fill="#4c76a6"/>
<text x="459.10" y="775.90" font-size="10.65" textLength="55.76" lengthAdjust="spacingAndGlyphs">All HL TetR</text>
<rect x="431.4" y="783.7" width="21.8" height="7.8" fill="#e0545a"/>
<text x="459.10" y="791.50" font-size="10.65" textLength="95.05" lengthAdjust="spacingAndGlyphs">All Ceftriaxone DS</text>
</svg></body></html>
